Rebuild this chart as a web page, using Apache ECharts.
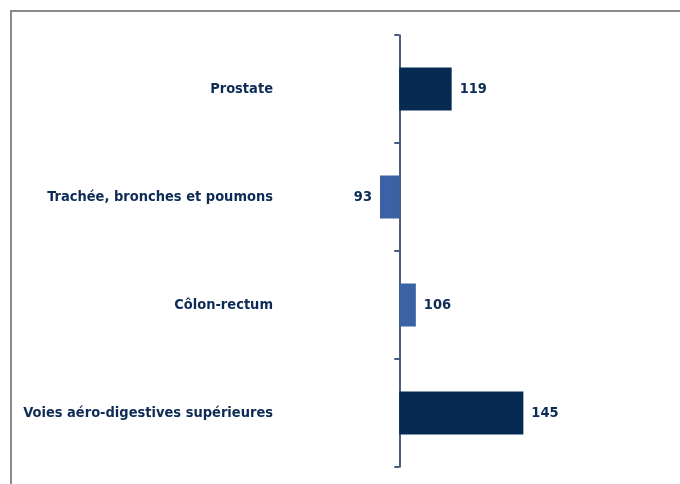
<!DOCTYPE html>
<html>
<head>
<meta charset="utf-8">
<script src="https://cdn.jsdelivr.net/npm/echarts@6/dist/echarts.min.js"></script>
<style>
  html, body { margin: 0; padding: 0; background: #fff; }
  #frame {
    position: absolute; left: 10px; top: 10px; width: 670px; height: 474px;
    border-top: 2px solid #8a8a8a; border-left: 2px solid #8a8a8a;
  }
  #chart { position: absolute; left: 0; top: 0; width: 680px; height: 484px; }
</style>
</head>
<body>
<div id="frame"></div>
<div id="chart"></div>
<script>
// indices comparatifs (base 100)
const categories = ['Prostate', 'Trachée, bronches et poumons', 'Côlon-rectum', 'Voies aéro-digestives supérieures']
const values = [119, 93, 106, 145]
const barColors = ['#062a52', '#3a62a4', '#3a62a4', '#062a52']
const baseValue = 100

const textColor = '#0d2b55'
const fontFamily = '"Liberation Sans Narrow", "DejaVu Sans Condensed", sans-serif'

const chart = echarts.init(document.getElementById('chart'))

chart.setOption({
  animation: false,
  grid: { left: 289, width: 386, top: 35, bottom: 17, outerBoundsMode: 'none', containLabel: false },
  xAxis: {
    type: 'value',
    min: -40,
    max: 100,
    show: false,
  },
  yAxis: {
    type: 'category',
    inverse: true,
    data: categories,
    axisLine: { onZero: true, lineStyle: { color: '#0d2b55', width: 1.5 } },
    axisTick: { show: true, length: 5, lineStyle: { color: '#0d2b55', width: 1.5 } },
    axisLabel: {
      margin: 16,
      color: textColor,
      fontFamily,
      fontWeight: 'bold',
      fontSize: 14.5,
    },
    splitLine: { show: false },
  },
  series: [{
    type: 'bar',
    barWidth: 43,
    data: values.map((v, i) => ({
      value: v - baseValue,
      itemStyle: { color: barColors[i] },
      label: { position: v < baseValue ? 'left' : 'right' },
    })),
    label: {
      show: true,
      distance: 8,
      color: textColor,
      fontFamily,
      fontWeight: 'bold',
      fontSize: 14.5,
      formatter: p => values[p.dataIndex],
    },
  }],
})
</script>
</body>
</html>
